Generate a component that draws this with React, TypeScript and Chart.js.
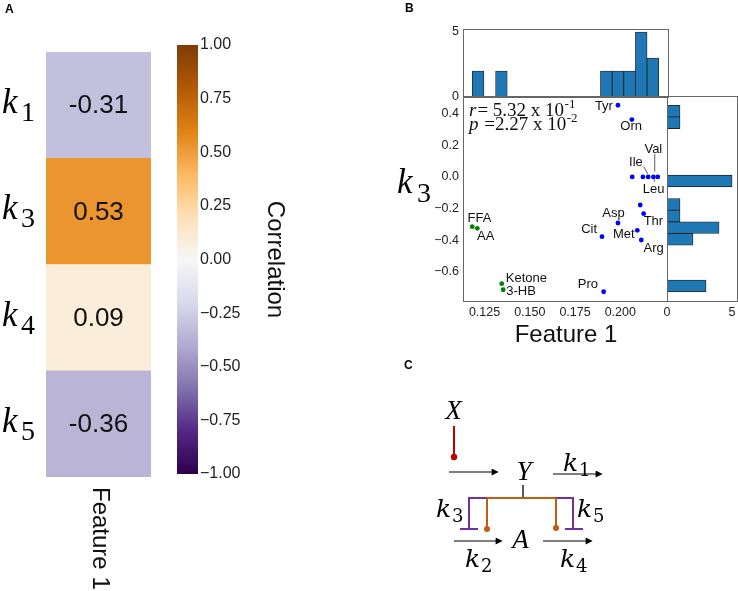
import React, { useEffect, useRef } from 'react';
import { Chart, registerables } from 'chart.js';

Chart.register(...registerables);

// ---------------- Panel A data ----------------
const HEAT_ROWS = ['k1', 'k3', 'k4', 'k5'];
const HEAT_ROW_SUBSCRIPTS = ['1', '3', '4', '5'];
const HEAT_VALUES = [-0.31, 0.53, 0.09, -0.36];
const HEAT_COLUMN = 'Feature 1';
const COLORBAR_TICKS = [-1, -0.75, -0.5, -0.25, 0, 0.25, 0.5, 0.75, 1];
const COLORBAR_TITLE = 'Correlation';

// ---------------- Panel B data ----------------
const POINT_NAMES = ['Tyr', 'Orn', '', '', 'Ile', 'Val', 'Leu', '', 'Thr', 'Asp', 'Met', 'Cit', 'Arg', 'Pro', 'FFA', 'AA', 'Ketone', '3-HB'];
const POINT_X = [0.1987, 0.2064, 0.2066, 0.2125, 0.2154, 0.2183, 0.2207, 0.2110, 0.2129, 0.1987, 0.2094, 0.1899, 0.2116, 0.1908, 0.1182, 0.1210, 0.1345, 0.1353];
const POINT_Y = [0.4545, 0.3636, 0.0, 0.0, 0.0, 0.0, 0.0, -0.1776, -0.2326, -0.2918, -0.3383, -0.3784, -0.3996, -0.7273, -0.315, -0.3256, -0.6765, -0.7146];
const POINT_GROUP = ['amino', 'amino', 'amino', 'amino', 'amino', 'amino', 'amino', 'amino', 'amino', 'amino', 'amino', 'amino', 'amino', 'amino', 'lipid', 'lipid', 'lipid', 'lipid'];
const TOP_HIST_COUNTS = [2, 0, 2, 0, 0, 0, 0, 0, 0, 0, 0, 2, 2, 2, 5, 3];
const RIGHT_HIST_COUNTS = [3, 0, 0, 0, 2, 4, 1, 1, 0, 5, 0, 0, 0, 0, 1, 1];
const SCATTER_X_RANGE = [0.1131, 0.2258];
const SCATTER_Y_RANGE = [-0.786, 0.513];
const SCATTER_X_TICKS = [0.125, 0.15, 0.175, 0.2];
const SCATTER_Y_TICKS = [-0.6, -0.4, -0.2, 0.0, 0.2, 0.4];
const HIST_COUNT_TICKS = [0, 5];
const TOP_HIST_MAX = 5.23;
const RIGHT_HIST_MAX = 5.38;
const STAT_R = { mantissa: '5.32', exponent: '-1' };
const STAT_P = { mantissa: '2.27', exponent: '-2' };
const X_TITLE = 'Feature 1';
const Y_TITLE_SUB = '3';

// ---------------- styles ----------------
const SANS = "'Liberation Sans', Arial, Helvetica, sans-serif";
const SERIF = "'Liberation Serif', 'Times New Roman', serif";
const MATH = "'DejaVu Serif', 'Liberation Serif', serif";
const PUOR = ['#7f3b08', '#b35806', '#e08214', '#fdb863', '#fee0b6', '#f7f7f7', '#d8daeb', '#b2abd2', '#8073ac', '#542788', '#2d004b'];
const BLUE = '#0000ff';
const GREEN = '#008000';
const HIST_BLUE = '#1f77b4';
const FRAME = '#666666';
const TICK_COLOR = '#222222';

const LABEL_LAYOUT: Record<string, any> = {
  Tyr: { dx: -5, dy: 1.6, align: 'right' },
  Orn: { dx: -11.6, dy: 6.7, align: 'left' },
  Ile: { dx: -5.4, dy: -14.3, align: 'right', line: [-4.4, -10.3, -0.4, -3] },
  Val: { dx: -9, dy: -27.7, align: 'left', line: [1.3, -23, 1.3, -5.3] },
  Leu: { dx: -15, dy: 12.3, align: 'left', line: [-5, -1, -3, 4.7] },
  Asp: { dx: 6.7, dy: -9.3, align: 'right' },
  Thr: { dx: 0, dy: 7.7, align: 'left' },
  Cit: { dx: -5, dy: -7.7, align: 'right' },
  Met: { dx: -2.7, dy: 3.6, align: 'right' },
  Arg: { dx: 2.3, dy: 8, align: 'left' },
  FFA: { dx: -4.7, dy: -8.7, align: 'left' },
  AA: { dx: -0.3, dy: 8, align: 'left' },
  Ketone: { dx: 4, dy: -5, align: 'left' },
  '3-HB': { dx: 3, dy: 2, align: 'left' },
  Pro: { dx: -5.7, dy: -7, align: 'right' },
};

function hexToRgb(h: string) {
  return [parseInt(h.slice(1, 3), 16), parseInt(h.slice(3, 5), 16), parseInt(h.slice(5, 7), 16)];
}
function corrColor(v: number) {
  const t = ((1 - v) / 2) * 10;
  const i = Math.max(0, Math.min(9, Math.floor(t)));
  const f = t - i;
  const a = hexToRgb(PUOR[i]);
  const b = hexToRgb(PUOR[i + 1]);
  const c = a.map((av, k) => Math.round(av + (b[k] - av) * f));
  return `rgb(${c[0]},${c[1]},${c[2]})`;
}
function fmtMinus(s: string) {
  return s.replace('-', '\u2212');
}
function binCenters(values: number[], n: number) {
  const lo = Math.min(...values);
  const hi = Math.max(...values);
  const w = (hi - lo) / n;
  const out: number[] = [];
  for (let i = 0; i < n; i++) out.push(lo + w * (i + 0.5));
  return out;
}
function drawK(ctx: CanvasRenderingContext2D, x: number, base: number, sub: string, kSize: number, subSize: number, subX: number, subDrop: number) {
  ctx.save();
  ctx.fillStyle = '#000';
  ctx.textAlign = 'left';
  ctx.textBaseline = 'alphabetic';
  ctx.font = `italic ${kSize}px ${SERIF}`;
  ctx.fillText('k', x, base);
  ctx.font = `${subSize}px ${SERIF}`;
  ctx.fillText(sub, x + subX, base + subDrop);
  ctx.restore();
}
const fixedTicks = (vals: number[]) => (scale: any) => {
  scale.ticks = vals.map((v) => ({ value: v }));
};
const fitTo = (dim: 'width' | 'height', size: number) => (s: any) => {
  s[dim] = size;
  s.paddingTop = 0;
  s.paddingBottom = 0;
  s.paddingLeft = 0;
  s.paddingRight = 0;
};
const framePlugin = {
  id: 'frame',
  afterDatasetsDraw(chart: any) {
    const { ctx, chartArea: ca } = chart;
    ctx.save();
    ctx.strokeStyle = FRAME;
    ctx.lineWidth = 1;
    ctx.strokeRect(Math.round(ca.left) + 0.5, Math.round(ca.top) + 0.5, Math.round(ca.right - ca.left), Math.round(ca.bottom - ca.top));
    ctx.restore();
  },
};
const baseOpts = {
  animation: false,
  responsive: false,
  maintainAspectRatio: false,
  events: [],
  plugins: { legend: { display: false }, tooltip: { enabled: false } },
};

// ---------------- chart configs ----------------
function heatmapConfig() {
  const labelsPlugin = {
    id: 'heatLabels',
    afterDatasetsDraw(chart: any) {
      const { ctx, chartArea: ca } = chart;
      const meta = chart.getDatasetMeta(0);
      meta.data.forEach((el: any, i: number) => {
        const cx = (el.x + el.base) / 2;
        const cy = el.y;
        ctx.save();
        ctx.fillStyle = '#111';
        ctx.font = `26px ${SANS}`;
        ctx.textAlign = 'center';
        ctx.textBaseline = 'middle';
        ctx.fillText(HEAT_VALUES[i].toFixed(2), cx, cy + 1);
        ctx.restore();
        drawK(ctx, 2, cy + 8, HEAT_ROW_SUBSCRIPTS[i], 35, 28, 19, 8);
      });
      ctx.save();
      ctx.translate((ca.left + ca.right) / 2 + 1.5, ca.bottom + 10);
      ctx.rotate(Math.PI / 2);
      ctx.fillStyle = '#111';
      ctx.font = `24px ${SANS}`;
      ctx.textAlign = 'left';
      ctx.textBaseline = 'middle';
      ctx.fillText(HEAT_COLUMN, 0, 0);
      ctx.restore();
    },
  };
  return {
    type: 'bar',
    data: {
      labels: HEAT_ROWS,
      datasets: [
        {
          data: HEAT_VALUES.map(() => 1),
          backgroundColor: HEAT_VALUES.map(corrColor),
          borderWidth: 0,
          barPercentage: 1,
          categoryPercentage: 1,
        },
      ],
    },
    options: {
      ...baseOpts,
      indexAxis: 'y',
      layout: { padding: { left: 46, right: 9, top: 52, bottom: 114 } },
      scales: {
        x: { type: 'linear', min: 0, max: 1, display: false },
        y: { type: 'category', display: false },
      },
    },
    plugins: [labelsPlugin],
  };
}

function colorbarConfig() {
  const titlePlugin = {
    id: 'cbTitle',
    afterDraw(chart: any) {
      const { ctx, chartArea: ca } = chart;
      ctx.save();
      ctx.translate(115, (ca.top + ca.bottom) / 2);
      ctx.rotate(Math.PI / 2);
      ctx.fillStyle = '#111';
      ctx.font = `24px ${SANS}`;
      ctx.textAlign = 'center';
      ctx.textBaseline = 'middle';
      ctx.fillText(COLORBAR_TITLE, 0, 0);
      ctx.restore();
    },
  };
  return {
    type: 'bar',
    data: {
      labels: [''],
      datasets: [
        {
          data: [[COLORBAR_TICKS[0], COLORBAR_TICKS[COLORBAR_TICKS.length - 1]]],
          backgroundColor: (c: any) => {
            const { chart } = c;
            const ca = chart.chartArea;
            if (!ca) return PUOR[5];
            const g = chart.ctx.createLinearGradient(0, ca.top, 0, ca.bottom);
            PUOR.forEach((col, i) => g.addColorStop(i / (PUOR.length - 1), col));
            return g;
          },
          borderWidth: 0,
          barPercentage: 1,
          categoryPercentage: 1,
        },
      ],
    },
    options: {
      ...baseOpts,
      layout: { padding: { left: 17, right: 42, top: 45, bottom: 117 } },
      scales: {
        x: { type: 'category', display: false },
        y: {
          position: 'right',
          min: -1,
          max: 1,
          afterBuildTicks: fixedTicks(COLORBAR_TICKS),
          afterFit: fitTo('width', 60),
          grid: { display: false, drawTicks: false },
          border: { display: false },
          ticks: {
            padding: 2,
            color: TICK_COLOR,
            font: { family: SANS, size: 16 },
            callback: (v: any) => fmtMinus(Number(v).toFixed(2)),
          },
        },
      },
    },
    plugins: [titlePlugin],
  };
}

function scatterConfig() {
  const groups = ['amino', 'lipid'];
  const colors = [BLUE, GREEN];
  const datasets = groups.map((g, gi) => {
    const idx = POINT_GROUP.map((pg, i) => (pg === g ? i : -1)).filter((i) => i >= 0);
    return {
      data: idx.map((i) => ({ x: POINT_X[i], y: POINT_Y[i] })),
      names: idx.map((i) => POINT_NAMES[i]),
      backgroundColor: colors[gi],
      borderWidth: 0,
      pointRadius: 2.4,
    };
  });
  const textPlugin = {
    id: 'scatterText',
    afterDatasetsDraw(chart: any) {
      const { ctx, chartArea: ca } = chart;
      ctx.save();
      chart.data.datasets.forEach((ds: any, di: number) => {
        const meta = chart.getDatasetMeta(di);
        meta.data.forEach((el: any, j: number) => {
          const name = ds.names[j];
          if (!name) return;
          const lay = LABEL_LAYOUT[name];
          if (!lay) return;
          ctx.fillStyle = '#111';
          ctx.font = `13px ${SANS}`;
          ctx.textAlign = lay.align;
          ctx.textBaseline = 'middle';
          ctx.fillText(name, el.x + lay.dx, el.y + lay.dy);
          if (lay.line) {
            ctx.strokeStyle = '#333';
            ctx.lineWidth = 0.8;
            ctx.beginPath();
            ctx.moveTo(el.x + lay.line[0], el.y + lay.line[1]);
            ctx.lineTo(el.x + lay.line[2], el.y + lay.line[3]);
            ctx.stroke();
          }
        });
      });
      const drawStat = (sym: string, sep: string, st: any, base: number) => {
        let x = ca.left + 6;
        ctx.textAlign = 'left';
        ctx.textBaseline = 'alphabetic';
        ctx.fillStyle = '#111';
        ctx.font = `italic 19px ${SERIF}`;
        ctx.fillText(sym, x, base);
        x += ctx.measureText(sym).width + 1;
        ctx.font = `19px ${SERIF}`;
        const main = `${sep}${st.mantissa} x 10`;
        ctx.fillText(main, x, base);
        x += ctx.measureText(main).width + 0.5;
        ctx.font = `13px ${SERIF}`;
        ctx.fillText(st.exponent, x, base - 8);
      };
      drawStat('r', '= ', STAT_R, ca.top + 20);
      drawStat('p', ' =', STAT_P, ca.top + 34);
      ctx.fillStyle = '#111';
      ctx.font = `24px ${SANS}`;
      ctx.textAlign = 'center';
      ctx.textBaseline = 'middle';
      ctx.fillText(X_TITLE, (ca.left + ca.right) / 2 + 1, ca.bottom + 34);
      ctx.restore();
      drawK(ctx, ca.left - 66, ca.top + 97, Y_TITLE_SUB, 35, 28, 20, 9);
    },
  };
  return {
    type: 'scatter',
    data: { datasets },
    options: {
      ...baseOpts,
      layout: { padding: { left: 43, right: 13, top: 6, bottom: 29 } },
      scales: {
        x: {
          type: 'linear',
          min: SCATTER_X_RANGE[0],
          max: SCATTER_X_RANGE[1],
          afterBuildTicks: fixedTicks(SCATTER_X_TICKS),
          afterFit: fitTo('height', 20),
          grid: { display: false, drawTicks: false },
          border: { display: false },
          ticks: {
            padding: 4,
            color: TICK_COLOR,
            maxRotation: 0,
            font: { family: SANS, size: 12.5 },
            callback: (v: any) => Number(v).toFixed(3),
          },
        },
        y: {
          type: 'linear',
          min: SCATTER_Y_RANGE[0],
          max: SCATTER_Y_RANGE[1],
          afterBuildTicks: fixedTicks(SCATTER_Y_TICKS),
          afterFit: fitTo('width', 40),
          grid: { display: false, drawTicks: false },
          border: { display: false },
          ticks: {
            padding: 4,
            color: TICK_COLOR,
            font: { family: SANS, size: 12.5 },
            callback: (v: any) => fmtMinus(Number(v).toFixed(1)),
          },
        },
      },
    },
    plugins: [framePlugin, textPlugin],
  };
}

const histBar = {
  backgroundColor: HIST_BLUE,
  borderColor: '#222222',
  borderSkipped: false,
  barPercentage: 1,
  categoryPercentage: 1,
};

function topHistConfig() {
  const centers = binCenters(POINT_X, TOP_HIST_COUNTS.length);
  return {
    type: 'bar',
    data: {
      datasets: [
        {
          ...histBar,
          data: centers.map((c, i) => ({ x: c, y: TOP_HIST_COUNTS[i] })),
          borderWidth: (c: any) => (c.raw && c.raw.y > 0 ? 0.8 : 0),
        },
      ],
    },
    options: {
      ...baseOpts,
      layout: { padding: { left: 43, right: 12, top: 29, bottom: 3 } },
      scales: {
        x: {
          type: 'linear',
          offset: false,
          min: SCATTER_X_RANGE[0],
          max: SCATTER_X_RANGE[1],
          afterBuildTicks: fixedTicks(SCATTER_X_TICKS),
          display: false,
        },
        y: {
          type: 'linear',
          min: 0,
          max: TOP_HIST_MAX,
          afterBuildTicks: fixedTicks(HIST_COUNT_TICKS),
          afterFit: fitTo('width', 40),
          grid: { display: false, drawTicks: false },
          border: { display: false },
          ticks: {
            padding: 4,
            color: TICK_COLOR,
            font: { family: SANS, size: 12.5 },
            callback: (v: any) => String(v),
          },
        },
      },
    },
    plugins: [framePlugin],
  };
}

function rightHistConfig() {
  const centers = binCenters(POINT_Y, RIGHT_HIST_COUNTS.length);
  return {
    type: 'bar',
    data: {
      datasets: [
        {
          ...histBar,
          data: centers.map((c, i) => ({ x: RIGHT_HIST_COUNTS[i], y: c })),
          borderWidth: (c: any) => (c.raw && c.raw.x > 0 ? 0.8 : 0),
        },
      ],
    },
    options: {
      ...baseOpts,
      indexAxis: 'y',
      layout: { padding: { left: 7, right: 1, top: 6, bottom: 29 } },
      scales: {
        y: {
          type: 'linear',
          offset: false,
          min: SCATTER_Y_RANGE[0],
          max: SCATTER_Y_RANGE[1],
          afterBuildTicks: fixedTicks(SCATTER_Y_TICKS),
          display: false,
        },
        x: {
          type: 'linear',
          min: 0,
          max: RIGHT_HIST_MAX,
          afterBuildTicks: fixedTicks(HIST_COUNT_TICKS),
          afterFit: fitTo('height', 20),
          grid: { display: false, drawTicks: false },
          border: { display: false },
          ticks: {
            padding: 4,
            color: TICK_COLOR,
            maxRotation: 0,
            font: { family: SANS, size: 12.5 },
            callback: (v: any) => String(v),
          },
        },
      },
    },
    plugins: [framePlugin],
  };
}

function ChartBox({ left, top, width, height, build }: any) {
  const ref = useRef<HTMLCanvasElement | null>(null);
  useEffect(() => {
    if (!ref.current) return;
    const chart = new Chart(ref.current, build());
    return () => chart.destroy();
  }, []);
  return <canvas ref={ref} width={width} height={height} style={{ position: 'absolute', left, top, width, height }} />;
}

// ---------------- Panel C diagram ----------------
function KLabel({ x, y, sub, subX = 16, size = 25, subSize = 18, drop = 5 }: any) {
  return (
    <g>
      <text x={x} y={y} fontFamily={MATH} fontStyle="italic" fontSize={size} fill="#000">k</text>
      <text x={x + subX} y={y + drop} fontFamily={MATH} fontSize={subSize} fill="#000">{sub}</text>
    </g>
  );
}

function Diagram() {
  const RED = '#c00000';
  const ORANGE = '#c55a11';
  const PURPLE = '#7030a0';
  const arrow = (x1: number, y1: number, x2: number, y2: number) => (
    <line x1={x1} y1={y1} x2={x2 - 6} y2={y2} stroke="#000" strokeWidth={1.2} markerEnd="url(#arrowHead)" />
  );
  return (
    <svg width={738} height={591} style={{ position: 'absolute', left: 0, top: 0, pointerEvents: 'none' }}>
      <defs>
        <marker id="arrowHead" viewBox="0 0 10 10" refX="2" refY="5" markerWidth="8" markerHeight="7" markerUnits="userSpaceOnUse" orient="auto">
          <path d="M0,0 L10,5 L0,10 z" fill="#000" />
        </marker>
      </defs>
      <text x={5} y={13} fontFamily={SANS} fontWeight="bold" fontSize={12} fill="#000">A</text>
      <text x={405} y={12} fontFamily={SANS} fontWeight="bold" fontSize={12} fill="#000">B</text>
      <text x={404} y={369} fontFamily={SANS} fontWeight="bold" fontSize={12} fill="#000">C</text>

      <text x={453.5} y={419} textAnchor="middle" fontFamily={SERIF} fontStyle="italic" fontSize={27} fill="#000">X</text>
      <line x1={454} y1={426} x2={454} y2={456} stroke={RED} strokeWidth={2} />
      <circle cx={454} cy={457} r={3.2} fill={RED} />
      {arrow(449, 472, 499, 472)}
      <text x={524} y={480} textAnchor="middle" fontFamily={SERIF} fontStyle="italic" fontSize={27} fill="#000">Y</text>
      <KLabel x={563} y={471} sub="1" />
      {arrow(553, 474, 603, 474)}

      <line x1={523} y1={485} x2={523} y2={498} stroke="#000" strokeWidth={1.3} />
      <polyline points="469,529 469,498 487,498" fill="none" stroke={PURPLE} strokeWidth={2} />
      <polyline points="556,498 573,498 573,529" fill="none" stroke={PURPLE} strokeWidth={2} />
      <line x1={460} y1={529} x2={478} y2={529} stroke={PURPLE} strokeWidth={2} />
      <line x1={565} y1={529} x2={583} y2={529} stroke={PURPLE} strokeWidth={2} />
      <line x1={487} y1={498} x2={556} y2={498} stroke={ORANGE} strokeWidth={2} />
      <line x1={487} y1={498} x2={487} y2={528} stroke={ORANGE} strokeWidth={2} />
      <line x1={556} y1={498} x2={556} y2={527} stroke={ORANGE} strokeWidth={2} />
      <circle cx={487} cy={529} r={3} fill={ORANGE} />
      <circle cx={556} cy={528} r={3} fill={ORANGE} />

      <KLabel x={436} y={517} sub="3" />
      <KLabel x={577} y={517} sub="5" />

      {arrow(454, 541, 503, 541)}
      <text x={520.5} y={548} textAnchor="middle" fontFamily={SERIF} fontStyle="italic" fontSize={27} fill="#000">A</text>
      {arrow(543, 541, 593, 541)}
      <KLabel x={465} y={567} sub="2" />
      <KLabel x={560} y={567} sub="4" />
    </svg>
  );
}

export default function App() {
  return (
    <div style={{ position: 'fixed', left: 0, top: 0, width: 738, height: 591, background: '#ffffff', overflow: 'hidden' }}>
      <ChartBox left={0} top={0} width={160} height={591} build={heatmapConfig} />
      <ChartBox left={160} top={0} width={140} height={591} build={colorbarConfig} />
      <ChartBox left={380} top={0} width={300} height={100} build={topHistConfig} />
      <ChartBox left={380} top={90} width={300} height={260} build={scatterConfig} />
      <ChartBox left={660} top={90} width={78} height={260} build={rightHistConfig} />
      <Diagram />
    </div>
  );
}
